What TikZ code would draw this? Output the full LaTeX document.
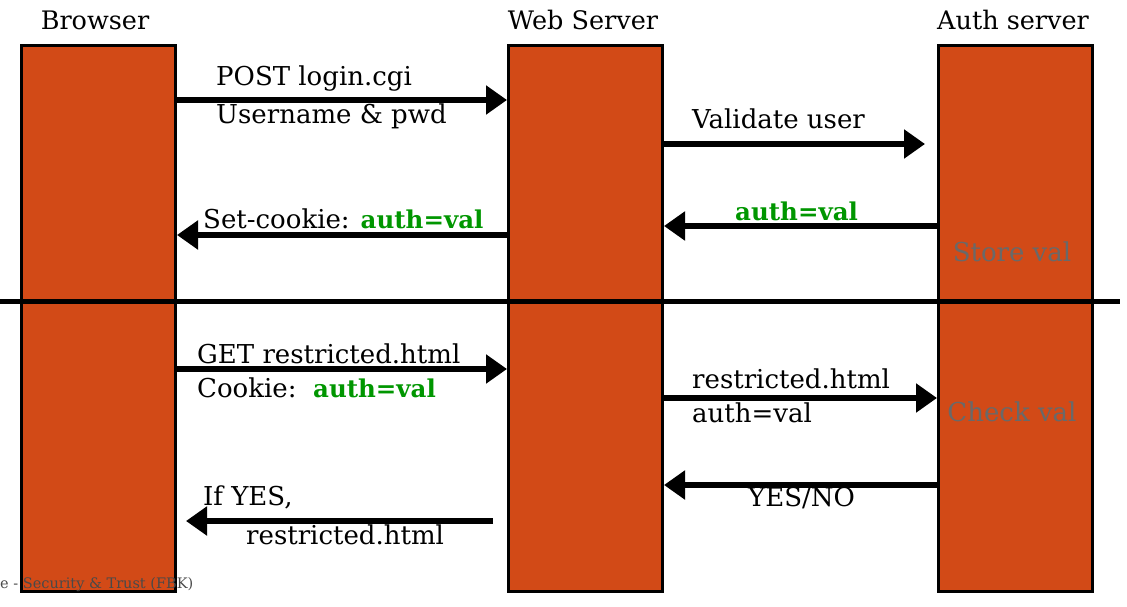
\documentclass[tikz,border=0pt]{standalone}
\usepackage{fontspec}
\setmainfont{DejaVu Serif}
\usetikzlibrary{arrows.meta}
\definecolor{boxorange}{RGB}{210,74,23}
\definecolor{okgreen}{RGB}{0,150,0}
\definecolor{notegrey}{RGB}{105,105,105}
\newcommand{\grnbold}[1]{{\color{okgreen}\fontsize{24.5}{30}\selectfont\bfseries #1}}
\tikzset{
  lane/.style={draw=black, line width=3pt, fill=boxorange, anchor=north west,
    minimum width=154pt, minimum height=546pt, inner sep=0pt},
  msg/.style={line width=5.5pt, -{Triangle[length=21pt,width=28pt]}},
  lbl/.style={anchor=west, inner sep=0pt, font=\fontsize{26}{30}\selectfont},
  head/.style={inner sep=0pt, font=\fontsize{25.5}{30}\selectfont},
  note/.style={inner sep=0pt, text=notegrey, font=\fontsize{26}{30}\selectfont},
}
\begin{document}
\begin{tikzpicture}[x=1pt, y=-1pt]
\useasboundingbox (0,0) rectangle (1127,607);
% lanes
\node[lane] (browser) at (20,44) {};
\node[lane] (web) at (507,44) {};
\node[lane] (auth) at (937,44) {};
% headings
\node[head] (hb) at (95,20) {Browser};
\node[head] (hw) at (583,20) {Web Server};
\node[head] (ha) at (1013,20) {Auth server};
% notes inside auth
\node[note] (store) at (1012,252) {Store val};
\node[note] (check) at (1012,412) {Check val};
% divider
\coordinate (dl) at (0,301);
\coordinate (dr) at (1120,301);
\draw[line width=5pt] (dl) -- (dr);
% free ends
\coordinate (v1) at (925,144);
\coordinate (y1) at (493,521);
\coordinate (y2) at (186,521);
% messages
\draw[msg] (browser.east |- 0,100) -- (web.west |- 0,100);
\node[lbl] (m1a) at (216,79) {POST login.cgi};
\node[lbl] (m1b) at (216,116) {Username \& pwd};

\draw[msg] (web.east |- v1) -- (v1);
\node[lbl] (m2) at (692,119) {Validate user};

\draw[msg] (auth.west |- 0,226) -- (web.east |- 0,226);
\node[lbl] (m3) at (735,211) {\grnbold{auth=val}};

\draw[msg] (web.west |- 0,235) -- (browser.east |- 0,235);
\node[lbl] (m4) at (203,219) {Set-cookie: \grnbold{auth=val}};

\draw[msg] (browser.east |- 0,369) -- (web.west |- 0,369);
\node[lbl] (m5a) at (197,354) {GET restricted.html};
\node[lbl] (m5b) at (197,388) {Cookie:\ \ \grnbold{auth=val}};

\draw[msg] (web.east |- 0,398) -- (auth.west |- 0,398);
\node[lbl] (m6a) at (692,379) {restricted.html};
\node[lbl] (m6b) at (692,413) {auth=val};

\draw[msg] (auth.west |- 0,485) -- (web.east |- 0,485);
\node[lbl] (m7) at (748,498) {YES/NO};

\draw[msg] (y1) -- (y2);
\node[lbl] (m8a) at (203,497) {If YES,};
\node[lbl] (m8b) at (246,535) {restricted.html};
% footer
\node[anchor=west, inner sep=0pt, text=notegrey!70!black, font=\fontsize{14.5}{17}\selectfont] (foot) at (0,585) {e - Security \& Trust (FBK)};
\end{tikzpicture}
\end{document}
